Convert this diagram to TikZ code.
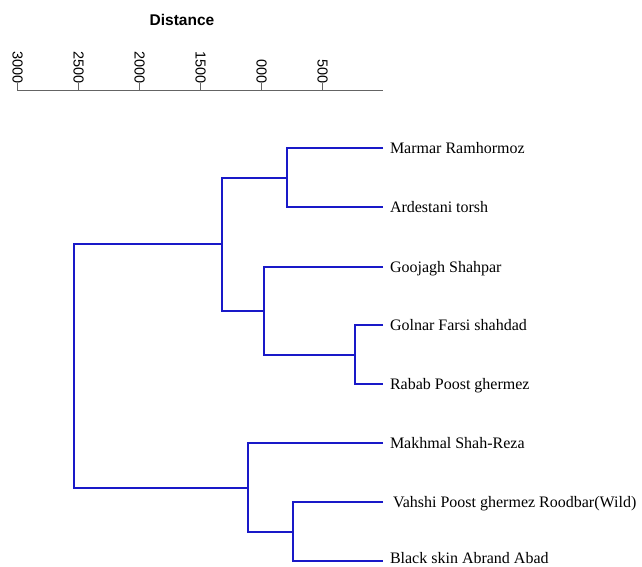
\documentclass[tikz,border=0pt]{standalone}
\usepackage{fontspec}
\setmainfont{Liberation Serif}
\newfontfamily\axisfont{Liberation Sans}
\usetikzlibrary{positioning}
\definecolor{dendroblue}{RGB}{25,25,200}
\definecolor{axisgray}{RGB}{100,100,100}
\tikzset{
  branch/.style={draw=dendroblue, line width=2pt, line join=miter},
  leaf/.style={anchor=base west, xshift=7pt, yshift=-5.5pt, font=\fontsize{16}{18}\selectfont},
  axisline/.style={draw=axisgray, line width=1pt},
  ticklab/.style={anchor=east, rotate=-90, font=\axisfont\fontsize{14.5}{16}\selectfont}
}
\begin{document}
\begin{tikzpicture}[inner sep=0pt,outer sep=0pt,x=1pt,y=-1pt]
  \useasboundingbox (0,0) rectangle (642,567);
    % 
  \node[font=\axisfont\bfseries\fontsize{15.5}{17}\selectfont] (title) at (182,20) {Distance};
  \coordinate (ax_left) at (17,90.5);
  \coordinate (ax_right) at (383,90.5);
  \draw[axisline] (ax_left) -- (ax_right);
  \foreach \i/\lab in {0/3000,1/2500,2/2000,3/1500,4/000,5/500}
  {
    \coordinate (tk\i) at (17.5+61*\i,90.5);
    \node[ticklab] (tl\i) at (17.5+61*\i,83.5) {\lab};
    \draw[axisline] (tk\i) -- (tl\i.east);
  }
    % 
  \coordinate (l1) at (383,148);
  \coordinate (l2) at (383,207);
  \coordinate (l3) at (383,267);
  \coordinate (l4) at (383,325);
  \coordinate (l5) at (383,384);
  \coordinate (l6) at (383,443);
  \coordinate (l7) at (383,502);
  \coordinate (l8) at (383,561);
  \node[leaf] (marmar) at (l1) {Marmar Ramhormoz};
  \node[leaf] (ardestani) at (l2) {Ardestani torsh};
  \node[leaf] (goojagh) at (l3) {Goojagh Shahpar};
  \node[leaf] (golnar) at (l4) {Golnar Farsi shahdad};
  \node[leaf] (rabab) at (l5) {Rabab Poost ghermez};
  \node[leaf] (makhmal) at (l6) {Makhmal Shah-Reza};
  \node[leaf,xshift=3pt] (vahshi) at (l7) {Vahshi Poost ghermez Roodbar(Wild)};
  \node[leaf,yshift=3pt] (black) at (l8) {Black skin Abrand Abad};
    % 
  \coordinate (j12) at (287,178);
  \coordinate (j45) at (355,355);
  \coordinate (j345) at (264,311);
  \coordinate (jA) at (222,244);
  \coordinate (j78) at (293,532);
  \coordinate (jB) at (248,488);
  \coordinate (root) at (74,366);
  \draw[branch] (l1) -| (j12) |- (l2);
  \draw[branch] (l4) -| (j45) |- (l5);
  \draw[branch] (l3) -| (j345) |- (j45);
  \draw[branch] (j12) -| (jA) |- (j345);
  \draw[branch] (l7) -| (j78) |- (l8);
  \draw[branch] (l6) -| (jB) |- (j78);
  \draw[branch] (jA) -| (root) |- (jB);
\end{tikzpicture}
\end{document}
